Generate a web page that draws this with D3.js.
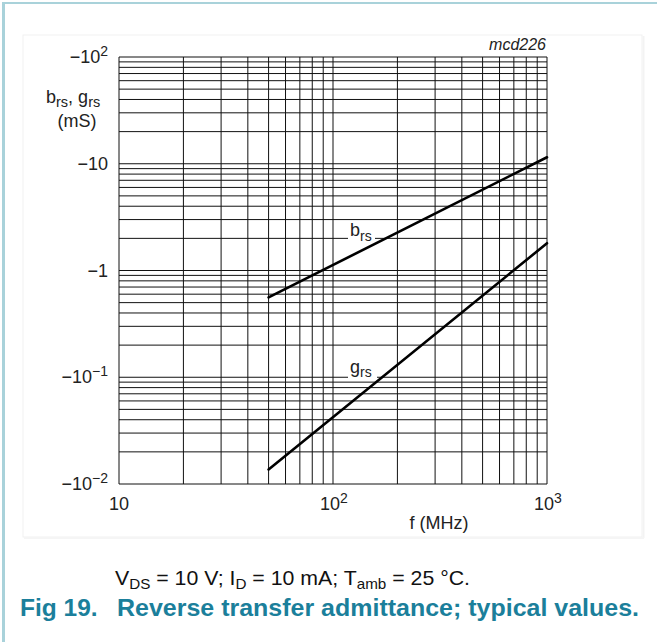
<!DOCTYPE html>
<html><head><meta charset="utf-8">
<script src="https://cdn.jsdelivr.net/npm/d3@7"></script>
<style>
html,body{margin:0;padding:0;background:#fff;}
svg{display:block;font-family:"Liberation Sans",Arial,sans-serif;}
</style></head>
<body>
<script>
// ---- data ----
const freqMHz = [50, 1000];
const brsValues = [-0.56, -11.5];
const grsValues = [-0.0137, -1.8];
const xTickValues = [10, 100, 1000];
const xTickBase = ["10", "10", "10"];
const xTickExp = ["", "2", "3"];
const yTickValues = [-100, -10, -1, -0.1, -0.01];
const yTickBase = ["\u221210", "\u221210", "\u22121", "\u221210", "\u221210"];
const yTickExp = ["2", "", "", "\u22121", "\u22122"];
const seriesNames = ["b", "g"];
const seriesSub = ["rs", "rs"];

const W = 657, H = 642;
const svg = d3.select("body").append("svg").attr("width", W).attr("height", H);

// page frame
svg.append("rect").attr("x",23).attr("y",35).attr("width",619).attr("height",502)
  .attr("fill","#fff").attr("stroke","#f1f1f1").attr("stroke-width",1);
svg.append("line").attr("x1",643.5).attr("x2",643.5).attr("y1",36).attr("y2",538).attr("stroke","#f3f3f3").attr("stroke-width",2);
svg.append("line").attr("x1",24).attr("x2",644).attr("y1",538).attr("y2",538).attr("stroke","#f5f5f5").attr("stroke-width",2);
svg.append("rect").attr("x",2).attr("y",2).attr("width",3).attr("height",H).attr("fill","#a9d2da");
svg.append("rect").attr("x",2).attr("y",2).attr("width",W).attr("height",2).attr("fill","#a9d2da");

const x = d3.scaleLog().domain([10, 1000]).range([119, 547]);
const y = d3.scaleLog().domain([-0.01, -100]).range([484, 57]);

const g = svg.append("g");
// grid
const xGrid = x.ticks();
const yGrid = y.ticks();
g.selectAll(".vg").data(xGrid).join("line")
  .attr("x1", d => x(d)).attr("x2", d => x(d)).attr("y1", 57).attr("y2", 484)
  .attr("stroke", "#111").attr("stroke-width", 1);
g.selectAll(".hg").data(yGrid).join("line")
  .attr("y1", d => y(d)).attr("y2", d => y(d)).attr("x1", 119).attr("x2", 547)
  .attr("stroke", "#111").attr("stroke-width", 1);

// label boxes (white backgrounds)
const labelPos = [{x:348, y:222, w:27, h:20, tx:350, ty:236, sy:240.5},
                  {x:348, y:357, w:29, h:22, tx:350, ty:372.5, sy:377}];

// series lines
const line = d3.line().x(d => x(d[0])).y(d => y(d[1]));
[brsValues, grsValues].forEach(vals => {
  g.append("path").datum(freqMHz.map((f, i) => [f, vals[i]]))
    .attr("d", line).attr("fill", "none").attr("stroke", "#000")
    .attr("stroke-width", 2.6).attr("stroke-linecap", "round");
});

labelPos.forEach((p, i) => {
  g.append("rect").attr("x", p.x).attr("y", p.y).attr("width", p.w).attr("height", p.h).attr("fill", "#fff");
  const t = g.append("text").attr("x", p.tx).attr("y", p.ty).attr("font-size", 18).attr("fill", "#222");
  t.append("tspan").text(seriesNames[i]);
  t.append("tspan").attr("font-size", 14).attr("dy", p.sy - p.ty).text(seriesSub[i]);
});

// y tick labels
yTickValues.forEach((v, i) => {
  const t = svg.append("text").attr("x", 108).attr("y", y(v) + 6)
    .attr("text-anchor", "end").attr("font-size", 18).attr("fill", "#222");
  t.append("tspan").text(yTickBase[i]);
  if (yTickExp[i]) t.append("tspan").attr("font-size", 14).attr("dy", -7).text(yTickExp[i]);
});
// x tick labels
xTickValues.forEach((v, i) => {
  const t = svg.append("text").attr("x", x(v) + (xTickExp[i] ? 1 : 0)).attr("y", 510)
    .attr("text-anchor", "middle").attr("font-size", 18).attr("fill", "#222");
  t.append("tspan").text(xTickBase[i]);
  if (xTickExp[i]) t.append("tspan").attr("font-size", 14).attr("dy", -7).text(xTickExp[i]);
});

// axis titles
const yt = svg.append("text").attr("x", 46).attr("y", 103).attr("font-size", 18).attr("fill", "#222");
yt.append("tspan").text("b");
yt.append("tspan").attr("font-size", 14.5).attr("dy", 4).text("rs");
yt.append("tspan").attr("dy", -4).text(", g");
yt.append("tspan").attr("font-size", 14.5).attr("dy", 4).text("rs");
svg.append("text").attr("x", 77).attr("y", 127).attr("text-anchor", "middle").attr("font-size", 18).attr("fill", "#222").text("(mS)");
svg.append("text").attr("x", 439).attr("y", 529).attr("text-anchor", "middle").attr("font-size", 18).attr("fill", "#222").text("f (MHz)");
svg.append("text").attr("x", 546).attr("y", 50).attr("text-anchor", "end").attr("font-size", 16)
  .attr("font-style", "italic").attr("fill", "#222").text("mcd226");

// caption
const cap = svg.append("text").attr("x", 115).attr("y", 585).attr("font-size", 21).attr("fill", "#111")
  .attr("textLength", 355).attr("lengthAdjust", "spacingAndGlyphs");
cap.append("tspan").text("V");
cap.append("tspan").attr("font-size", 15).attr("dy", 4).text("DS");
cap.append("tspan").attr("dy", -4).text(" = 10 V; I");
cap.append("tspan").attr("font-size", 15).attr("dy", 4).text("D");
cap.append("tspan").attr("dy", -4).text(" = 10 mA; T");
cap.append("tspan").attr("font-size", 15).attr("dy", 4).text("amb");
cap.append("tspan").attr("dy", -4).text(" = 25 \u00B0C.");

svg.append("text").attr("x", 20).attr("y", 616).attr("font-size", 24.5).attr("font-weight", "bold")
  .attr("fill", "#1b7f9b").text("Fig 19.");
svg.append("text").attr("x", 117).attr("y", 616).attr("font-size", 24.5).attr("font-weight", "bold")
  .attr("fill", "#1b7f9b").attr("textLength", 522).attr("lengthAdjust", "spacingAndGlyphs")
  .text("Reverse transfer admittance; typical values.");
</script>
</body></html>
